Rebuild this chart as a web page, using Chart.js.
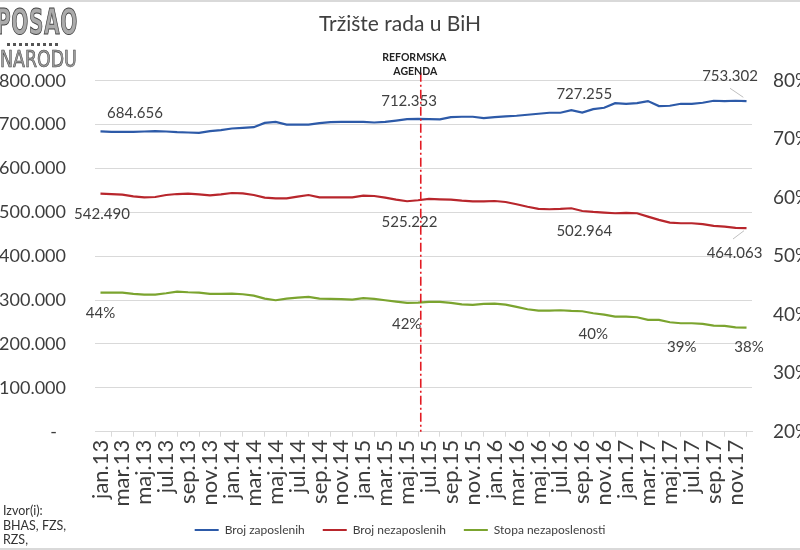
<!DOCTYPE html>
<html>
<head>
<meta charset="utf-8">
<script src="https://cdn.jsdelivr.net/npm/chart.js@4.4.0/dist/chart.umd.min.js"></script>
<style>
  html, body { margin: 0; padding: 0; background: #fff; }
  #wrap { position: relative; width: 800px; height: 550px; overflow: hidden; background: #fff; }
  #c { position: absolute; left: 0; top: 0; }
  .edge { position: absolute; left: 0; width: 800px; height: 2px; background: #d9d9d9; }
  .logo-a { position: absolute; left: -4px; top: 2px; font: bold 36px "DejaVu Sans Condensed", "DejaVu Sans"; color: #ababab;
            -webkit-text-stroke: 1px #444; transform: scaleX(0.62); transform-origin: 0 0; white-space: nowrap; line-height: 40px;
            letter-spacing: 1px; }
  .logo-dots { position: absolute; left: 7px; top: 43px; width: 54px; height: 3px;
               background: repeating-linear-gradient(90deg, #555 0 3px, transparent 3px 6px); }
  .logo-b { position: absolute; left: 0px; top: 46px; font: 23px "DejaVu Sans Condensed", "DejaVu Sans"; color: #a0a0a0;
            -webkit-text-stroke: 0.6px #444; transform: scaleX(0.84); transform-origin: 0 0; white-space: nowrap; line-height: 26px; }
  .src { position: absolute; left: 3px; top: 504px; font: 12.5px Lato, sans-serif; line-height: 14.5px; color: #333; }
</style>
</head>
<body>
<div id="wrap">
  <canvas id="c" width="800" height="550"></canvas>
  <div class="edge" style="top:0"></div>
  <div class="edge" style="top:548px"></div>
  <div class="logo-a">POSAO</div>
  <div class="logo-dots"></div>
  <div class="logo-b">NARODU</div>
  <div class="src">Izvor(i):<br>BHAS, FZS,<br>RZS,</div>
</div>
<script>
// ---------------- DATA ----------------
const categories = [
  'jan.13','feb.13','mar.13','apr.13','maj.13','jun.13','jul.13','aug.13','sep.13','okt.13','nov.13','dec.13',
  'jan.14','feb.14','mar.14','apr.14','maj.14','jun.14','jul.14','aug.14','sep.14','okt.14','nov.14','dec.14',
  'jan.15','feb.15','mar.15','apr.15','maj.15','jun.15','jul.15','aug.15','sep.15','okt.15','nov.15','dec.15',
  'jan.16','feb.16','mar.16','apr.16','maj.16','jun.16','jul.16','aug.16','sep.16','okt.16','nov.16','dec.16',
  'jan.17','feb.17','mar.17','apr.17','maj.17','jun.17','jul.17','aug.17','sep.17','okt.17','nov.17','dec.17'
];
// Broj zaposlenih (thousands)
const employed = [
  684.656, 683.5, 683.5, 683.5, 684.2, 684.9, 684.2, 682.7, 681.9, 681.1, 684.9, 687.2,
  691.0, 692.5, 694.1, 703.9, 706.2, 700.1, 700.1, 700.1, 703.2, 705.4, 706.2, 706.2,
  706.2, 704.7, 706.2, 709.2, 712.353, 713.0, 712.5, 711.8, 717.1, 717.8, 717.8, 714.8,
  717.1, 718.6, 720.1, 722.4, 724.7, 726.9, 726.9, 733.0, 727.255, 735.3, 738.3, 748.9,
  747.4, 748.9, 753.5, 742.1, 742.9, 747.4, 747.4, 749.7, 754.3, 753.5, 754.3, 753.302
];
// Broj nezaposlenih (thousands)
const unemployed = [
  542.490, 541.7, 540.2, 536.4, 534.1, 534.9, 539.5, 541.7, 542.5, 541.0, 538.7, 541.0,
  544.0, 543.2, 539.5, 533.4, 531.9, 531.9, 535.7, 539.5, 534.1, 534.1, 534.1, 534.1,
  537.9, 537.2, 533.4, 529.0, 525.222, 527.5, 530.5, 529.5, 528.8, 526.5, 525.0, 525.0,
  525.8, 523.5, 518.5, 512.6, 508.0, 507.0, 507.8, 509.3, 502.964, 500.9, 499.4, 497.9,
  498.6, 497.9, 490.3, 482.7, 476.6, 475.1, 475.1, 472.9, 469.0, 467.5, 464.5, 464.063
];
// Stopa nezaposlenosti (%)
const unemploymentRate = [
  43.79, 43.78, 43.78, 43.55, 43.44, 43.44, 43.67, 43.95, 43.84, 43.78, 43.55, 43.55,
  43.61, 43.50, 43.27, 42.76, 42.47, 42.76, 42.93, 43.04, 42.76, 42.70, 42.65, 42.59,
  42.82, 42.70, 42.47, 42.25, 42.02, 42.07, 42.18, 42.18, 42.01, 41.78, 41.67, 41.84,
  41.90, 41.73, 41.33, 40.93, 40.70, 40.70, 40.76, 40.65, 40.59, 40.25, 40.02, 39.68,
  39.68, 39.56, 39.11, 39.11, 38.71, 38.54, 38.54, 38.43, 38.14, 38.08, 37.85, 37.80
];
const seriesNames = ['Broj zaposlenih', 'Broj nezaposlenih', 'Stopa nezaposlenosti'];
const leftAxisRange = [0, 800, 100];
const rightAxisRange = [20, 80, 10];
const titleText = 'Tržište rada u BiH';
const reformText = ['REFORMSKA', 'AGENDA'];
const reformCategory = 'jun.15';
// labelled points: [series, category index]
const labelledPoints = [
  [0, 0], [0, 28], [0, 44], [0, 59],
  [1, 0], [1, 28], [1, 44], [1, 59],
  [2, 0], [2, 28], [2, 45], [2, 53], [2, 59]
];

// ---------------- STYLE ----------------
const colors = ['#2d5aa8', '#b8262c', '#7ba42f'];
const textColor = '#3d3d3d';
const gridColor = '#d9d9d9';
const FONT = 'Lato, "Open Sans", sans-serif';
// offsets of data label centres from their points, plus optional leader line
const labelOffsets = [
  {dx: 34.5, dy: -18}, {dx: 2, dy: -17.5}, {dx: 2, dy: -18}, {dx: -16.5, dy: -25.4, leader: [-3.2, -3.9, -16.5, -12.9]},
  {dx: 1.5, dy: 20}, {dx: 2.4, dy: 20.4}, {dx: 2, dy: 19.8}, {dx: -12, dy: 25, leader: [-2.5, 2.6, -13.5, 10.9]},
  {dx: 0, dy: 20.8}, {dx: -0.4, dy: 21}, {dx: 0, dy: 21}, {dx: 1, dy: 24}, {dx: 2.5, dy: 19.5}
];
const reformShift = 0.25;

const fmtThousands = v => v.toFixed(3);
const fmtPct = v => Math.round(v) + '%';

const dataLabelsPlugin = {
  id: 'dataLabels',
  afterDatasetsDraw(chart) {
    const ctx = chart.ctx;
    ctx.save();
    ctx.font = '15px ' + FONT;
    ctx.fillStyle = '#404040';
    ctx.textAlign = 'center';
    ctx.textBaseline = 'middle';
    labelledPoints.forEach(([s, i], k) => {
      const pt = chart.getDatasetMeta(s).data[i];
      const v = chart.data.datasets[s].data[i];
      const off = labelOffsets[k];
      const txt = s === 2 ? fmtPct(v) : fmtThousands(v);
      if (off.leader) {
        ctx.strokeStyle = '#bfbfbf';
        ctx.lineWidth = 1;
        ctx.beginPath();
        ctx.moveTo(pt.x + off.leader[0], pt.y + off.leader[1]);
        ctx.lineTo(pt.x + off.leader[2], pt.y + off.leader[3]);
        ctx.stroke();
      }
      ctx.fillText(txt, pt.x + off.dx, pt.y + off.dy);
    });
    ctx.restore();
  }
};

const reformPlugin = {
  id: 'reform',
  afterDraw(chart) {
    const ctx = chart.ctx;
    const xs = chart.scales.x;
    const x = xs.getPixelForValue(categories.indexOf(reformCategory) + reformShift);
    const area = chart.chartArea;
    ctx.save();
    ctx.strokeStyle = '#e31b23';
    ctx.lineWidth = 1.6;
    ctx.setLineDash([9, 3, 2, 3]);
    ctx.beginPath();
    ctx.moveTo(x, area.top - 8);
    ctx.lineTo(x, area.bottom);
    ctx.stroke();
    ctx.setLineDash([]);
    ctx.fillStyle = '#222';
    ctx.font = 'bold 10.5px ' + FONT;
    ctx.textAlign = 'center';
    ctx.textBaseline = 'middle';
    ctx.fillText(reformText[0], x - 6.5, area.top - 23.5);
    ctx.fillText(reformText[1], x - 5.5, area.top - 9.5);
    ctx.restore();
  }
};

const mkDataset = (idx, data, axis) => ({
  label: seriesNames[idx],
  data: data,
  yAxisID: axis,
  borderColor: colors[idx],
  backgroundColor: colors[idx],
  borderWidth: 2.2,
  pointRadius: 0,
  tension: 0,
  fill: false
});

new Chart(document.getElementById('c'), {
  type: 'line',
  data: {
    labels: categories,
    datasets: [
      mkDataset(0, employed, 'y'),
      mkDataset(1, unemployed, 'y'),
      mkDataset(2, unemploymentRate, 'y1')
    ]
  },
  plugins: [dataLabelsPlugin, reformPlugin],
  options: {
    responsive: false,
    animation: false,
    devicePixelRatio: 1,
    layout: { padding: { left: 0, right: 0, top: 0, bottom: 4 } },
    plugins: {
      tooltip: { enabled: false },
      title: {
        display: true,
        text: titleText,
        color: '#404040',
        font: { family: FONT, size: 21, weight: 'normal', lineHeight: 1.2 },
        padding: { top: 11.4, bottom: 44.1 }
      },
      legend: {
        position: 'bottom',
        labels: {
          color: '#404040',
          font: { family: FONT, size: 12 },
          boxWidth: 24,
          boxHeight: 2,
          padding: 18,
          generateLabels(chart) {
            const items = Chart.defaults.plugins.legend.labels.generateLabels(chart);
            items.forEach(it => { it.lineWidth = 0; it.fillStyle = it.strokeStyle; });
            return items;
          }
        }
      }
    },
    scales: {
      x: {
        type: 'category',
        offset: true,
        grid: { display: true, drawOnChartArea: false, drawTicks: true, tickLength: 5, offset: true, color: gridColor },
        border: { display: true, color: gridColor, width: 1 },
        ticks: {
          autoSkip: false,
          maxRotation: 90,
          minRotation: 90,
          padding: 3,
          color: textColor,
          font: { family: FONT, size: 22 },
          callback(value, index) { return index % 2 === 0 ? categories[index] : null; }
        },
        afterFit(s) { s.height = 74.3; }
      },
      y: {
        position: 'left',
        min: leftAxisRange[0],
        max: leftAxisRange[1],
        grid: { color: gridColor, drawTicks: false },
        border: { display: false },
        ticks: {
          stepSize: leftAxisRange[2],
          padding: 29,
          color: textColor,
          font: { family: FONT, size: 18 },
          callback(v) { return v === 0 ? '-\u2002' : fmtThousands(v); }
        },
        afterFit(s) { s.width = 95; }
      },
      y1: {
        position: 'right',
        min: rightAxisRange[0],
        max: rightAxisRange[1],
        grid: { drawOnChartArea: false, drawTicks: false },
        border: { display: false },
        ticks: {
          stepSize: rightAxisRange[2],
          padding: 21,
          color: textColor,
          font: { family: FONT, size: 19 },
          callback(v) { return v + '%'; }
        },
        afterFit(s) { s.width = 48; }
      }
    }
  }
});
</script>
</body>
</html>
